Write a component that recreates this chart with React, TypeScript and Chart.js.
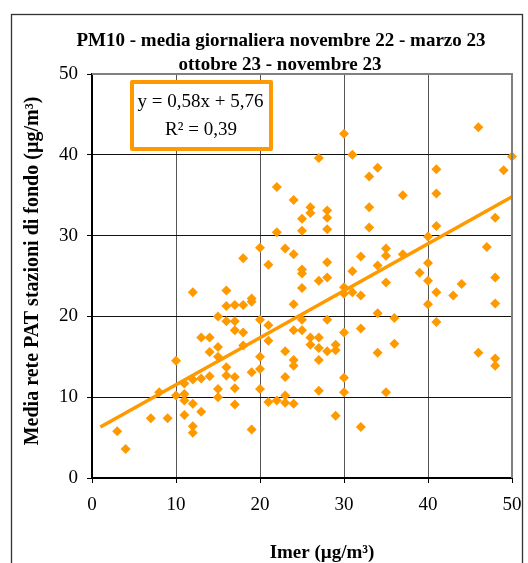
import React, { useEffect, useRef } from "react";
import { Chart, registerables } from "chart.js";

Chart.register(...registerables);

// Imer (µg/m³) daily values
const imerValues: number[] = [
  3, 4, 7, 8, 9, 10, 10, 11, 11, 11, 11, 12, 12, 12, 12, 12, 13, 13, 13, 14, 14, 14,
  15, 15, 15, 15, 15, 16, 16, 16, 16, 16, 17, 17, 17, 17, 17, 17, 18, 18, 18, 18,
  19, 19, 19, 19, 20, 20, 20, 20, 20, 21, 21, 21, 21, 22, 22, 22, 23, 23, 23, 23, 23,
  24, 24, 24, 24, 24, 24, 24, 25, 25, 25, 25, 25, 25, 25, 26, 26, 26, 26,
  27, 27, 27, 27, 27, 27, 28, 28, 28, 28, 28, 28, 28, 29, 29, 29,
  30, 30, 30, 30, 30, 30, 31, 31, 31, 32, 32, 32, 32, 33, 33, 33, 34, 34, 34, 34,
  35, 35, 35, 35, 36, 36, 37, 37, 39, 40, 40, 40, 40, 41, 41, 41, 41, 41,
  43, 44, 46, 46, 47, 48, 48, 48, 48, 48, 49, 50,
];

// Media rete PAT stazioni di fondo (µg/m³)
const pm10Values: number[] = [
  5.8, 3.6, 7.4, 10.6, 7.4, 14.5, 10.2, 11.7, 10.4, 9.6, 7.8, 9.2, 6.4, 5.6, 12.2, 23.0, 8.2, 12.3, 17.4, 17.4, 15.6, 12.6,
  20.0, 16.2, 15.0, 11.0, 10.0, 23.2, 21.3, 19.4, 13.7, 12.7, 21.4, 19.4, 18.3, 12.5, 11.1, 9.1, 21.4, 18.0, 16.4, 27.2,
  21.8, 22.2, 13.1, 6.0, 28.5, 19.6, 15.0, 13.5, 11.0, 26.4, 18.9, 17.0, 9.4, 36.0, 30.4, 9.6, 28.4, 15.7, 12.5, 10.2, 9.3,
  34.4, 27.7, 21.5, 18.3, 14.6, 13.9, 9.2, 32.1, 30.6, 25.8, 25.3, 23.5, 19.6, 18.3, 33.5, 32.8, 17.4, 16.5,
  39.6, 24.4, 17.4, 16.1, 14.6, 10.8, 33.1, 32.2, 30.8, 26.7, 24.8, 19.6, 15.7, 16.5, 15.8, 7.7,
  42.6, 23.6, 22.8, 18.0, 12.4, 10.6, 40.0, 25.6, 23.0, 27.4, 22.6, 18.5, 6.3, 37.3, 33.5, 31.0, 38.4, 26.3, 20.4, 15.5,
  28.4, 27.5, 24.2, 10.6, 19.8, 16.6, 35.0, 27.7, 25.4, 29.9, 26.6, 24.4, 21.5, 38.2, 35.2, 31.2, 23.0, 19.3,
  22.6, 24.0, 43.4, 15.5, 28.6, 32.2, 24.8, 21.6, 14.8, 13.9, 38.1, 39.8,
];

// Linear trend line end points (y = 0,58x + 5,76)
const trendX: number[] = [1, 50];
const trendY: number[] = [6.3, 34.8];

const axisTicks: number[] = [0, 10, 20, 30, 40, 50];

const titleLines: string[] = [
  "PM10 - media giornaliera novembre 22 - marzo 23",
  "ottobre 23 - novembre 23",
];
const xTitle = "Imer (µg/m³)";
const yTitle = "Media rete PAT stazioni di fondo (µg/m³)";
const equationLines: string[] = ["y = 0,58x + 5,76", "R² = 0,39"];

const ORANGE = "#FF9900";
const SERIF = "'Liberation Serif', 'Times New Roman', serif";

export default function App() {
  const canvasRef = useRef<HTMLCanvasElement | null>(null);

  useEffect(() => {
    const canvas = canvasRef.current;
    if (!canvas) return;

    const decor = {
      id: "decor",
      afterDraw(chart: any) {
        const ctx = chart.ctx as CanvasRenderingContext2D;
        const a = chart.chartArea;
        ctx.save();
        // plot area top / right border
        ctx.strokeStyle = "#808080";
        ctx.lineWidth = 2;
        ctx.beginPath();
        ctx.moveTo(a.left, a.top);
        ctx.lineTo(a.right, a.top);
        ctx.lineTo(a.right, a.bottom);
        ctx.stroke();

        // outer frame
        ctx.strokeStyle = "#333";
        ctx.lineWidth = 1.3;
        ctx.strokeRect(11.5, 14.5, 511, 600);

        // title
        ctx.fillStyle = "#000";
        ctx.font = `bold 19px ${SERIF}`;
        ctx.textAlign = "center";
        ctx.textBaseline = "alphabetic";
        ctx.fillText(titleLines[0], 281, 45.5);
        ctx.fillText(titleLines[1], 280, 69.5);

        // x title
        ctx.fillText(xTitle, 322, 558);

        // y title
        ctx.save();
        ctx.font = `bold 20px ${SERIF}`;
        ctx.translate(38, 271);
        ctx.rotate(-Math.PI / 2);
        ctx.fillText(yTitle, 0, 0);
        ctx.restore();

        // equation box
        const bx = 132, by = 82, bw = 139, bh = 67;
        ctx.fillStyle = "#fff";
        ctx.fillRect(bx, by, bw, bh);
        ctx.strokeStyle = ORANGE;
        ctx.lineWidth = 4;
        ctx.lineJoin = "round";
        ctx.strokeRect(bx, by, bw, bh);
        ctx.fillStyle = "#000";
        ctx.font = `19px ${SERIF}`;
        ctx.textAlign = "center";
        ctx.fillText(equationLines[0], 200.5, 106.5);
        ctx.fillText(equationLines[1], 201, 135);
        ctx.restore();
      },
    };

    const chart = new Chart(canvas, {
      type: "scatter",
      data: {
        datasets: [
          {
            label: "trend",
            data: trendX.map((x, i) => ({ x, y: trendY[i] })),
            showLine: true,
            borderColor: ORANGE,
            borderWidth: 3.5,
            pointRadius: 0,
            fill: false,
          } as any,
          {
            label: "PM10",
            data: imerValues.map((x, i) => ({ x, y: pm10Values[i] })),
            pointStyle: "rectRot",
            pointRadius: 5,
            pointBackgroundColor: ORANGE,
            pointBorderWidth: 0,
            backgroundColor: ORANGE,
            borderColor: ORANGE,
            clip: false,
          } as any,
        ],
      },
      options: {
        responsive: false,
        animation: false,
        devicePixelRatio: 1,
        layout: { padding: { top: 74, right: 16, left: 0, bottom: 0 } },
        plugins: {
          legend: { display: false },
          title: { display: false },
          tooltip: { enabled: false },
        },
        scales: {
          x: {
            type: "linear",
            min: 0,
            max: 50,
            afterBuildTicks: (s: any) => {
              s.ticks = axisTicks.map((v) => ({ value: v }));
            },
            ticks: {
              color: "#000",
              font: { family: SERIF, size: 19 },
              padding: 11,
              maxRotation: 0,
            },
            grid: { color: "#555", lineWidth: 1, tickLength: 5, tickColor: "#000" },
            border: { color: "#000", width: 2 },
            afterFit: (s: any) => {
              s.height = 85;
              s.paddingLeft = 0;
              s.paddingRight = 0;
            },
          },
          y: {
            type: "linear",
            min: 0,
            max: 50,
            afterBuildTicks: (s: any) => {
              s.ticks = axisTicks.map((v) => ({ value: v }));
            },
            ticks: {
              color: "#000",
              font: { family: SERIF, size: 19 },
              padding: 9,
            },
            grid: { color: "#111", lineWidth: 1, tickLength: 5, tickColor: "#000" },
            border: { color: "#000", width: 2 },
            afterFit: (s: any) => {
              s.width = 92;
              s.paddingTop = 0;
              s.paddingBottom = 0;
            },
          },
        },
      } as any,
      plugins: [decor],
    });

    return () => chart.destroy();
  }, []);

  return (
    <canvas
      ref={canvasRef}
      width={528}
      height={563}
      style={{ position: "fixed", left: 0, top: 0, width: 528, height: 563, background: "#fff" }}
    />
  );
}
